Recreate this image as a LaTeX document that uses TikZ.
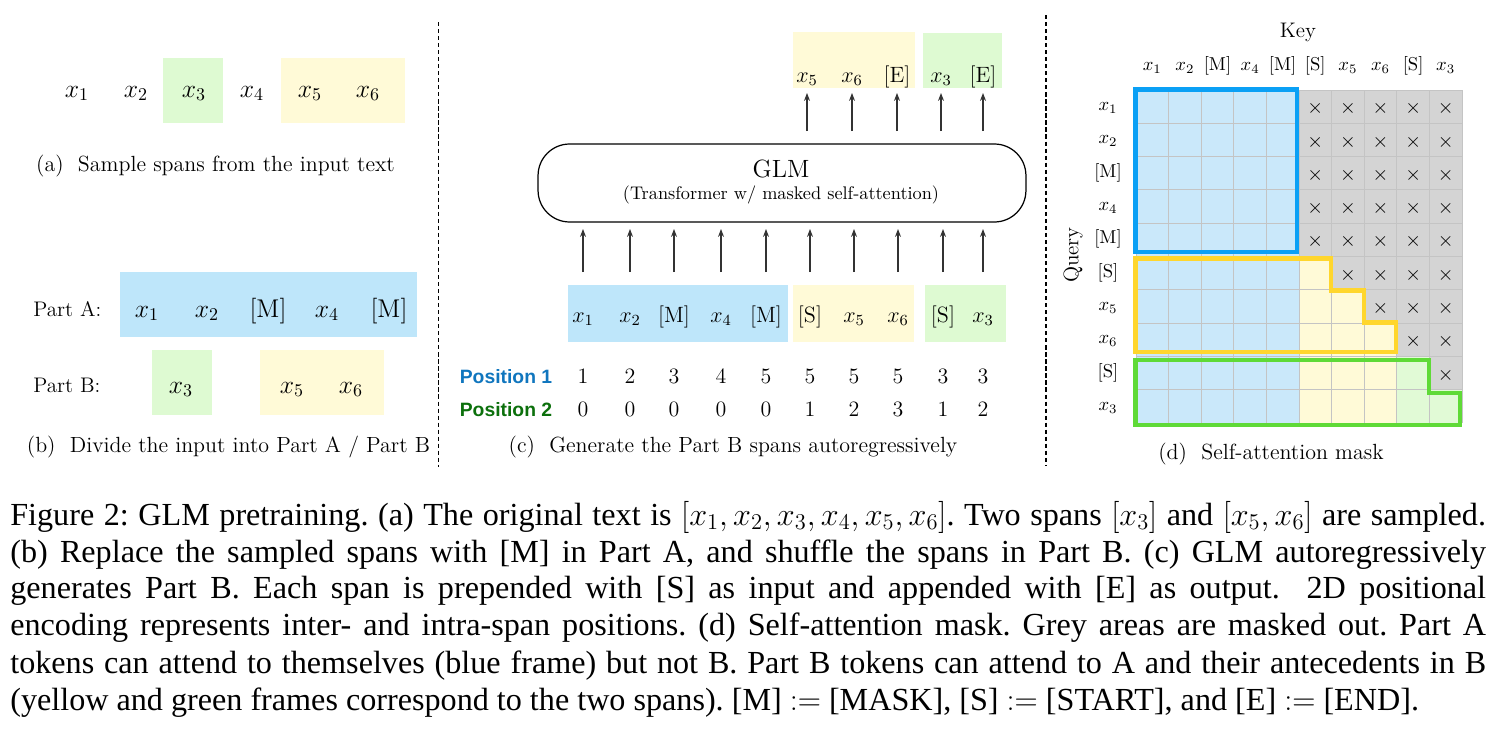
\documentclass[tikz,border=0pt]{standalone}
\usepackage{fix-cm}
\usepackage{fontspec}
\newfontfamily\capfont{Liberation Serif}
\newfontfamily\posfont{Liberation Sans}
\usetikzlibrary{arrows.meta}
\definecolor{boxblue}{RGB}{190,230,250}
\definecolor{boxyellow}{RGB}{255,250,215}
\definecolor{boxgreen}{RGB}{222,250,210}
\definecolor{cellblue}{RGB}{202,232,250}
\definecolor{cellyellow}{RGB}{255,250,215}
\definecolor{cellgreen}{RGB}{225,250,214}
\definecolor{cellgrey}{RGB}{212,212,212}
\definecolor{gridcol}{RGB}{196,196,196}
\definecolor{frameblue}{RGB}{10,160,245}
\definecolor{frameyellow}{RGB}{255,214,45}
\definecolor{framegreen}{RGB}{95,218,55}
\definecolor{posone}{RGB}{16,118,190}
\definecolor{postwo}{RGB}{12,112,12}
\newcommand{\myfs}[1]{\fontsize{#1}{#1}\selectfont}
\begin{document}
\frenchspacing
\begin{tikzpicture}[x=0.02cm,y=-0.02cm,
  tokA/.style={font=\myfs{14.6}, inner sep=0pt, anchor=base},
  tokC/.style={font=\myfs{12.6}, inner sep=0pt, anchor=base},
  numC/.style={font=\myfs{12.5}, inner sep=0pt, anchor=base},
  tokD/.style={font=\myfs{10.6}, inner sep=0pt, anchor=base},
  lab/.style={font=\myfs{12}, inner sep=0pt, anchor=base},
  subcap/.style={font=\myfs{12.5}, inner sep=0pt, anchor=base},
  poslab/.style={font=\posfont\bfseries\myfs{11}, inner sep=0pt, anchor=base},
  capline/.style={font=\capfont\myfs{18.3}, inner sep=0pt, anchor=base west},
  sepline/.style={line width=1.1pt, dash pattern=on 2.4pt off 1.6pt},
  arr/.style={line width=0.6pt, black!80, -{Stealth[length=4.5pt,width=3.4pt]}},
  frm/.style={line width=2.8pt, line join=miter},
  gridl/.style={gridcol, line width=0.5pt},
  xmark/.style={font=\myfs{11.5}, inner sep=0pt, anchor=center},
]
\useasboundingbox (0,0) rectangle (1492,747);

% separators
\coordinate (s1t) at (438.5,22); \coordinate (s1b) at (438.5,467);
\coordinate (s2t) at (1046,15); \coordinate (s2b) at (1046,465);
\draw[sepline] (s1t) -- (s1b);
\draw[sepline] (s2t) -- (s2b);

% ---------- panel (a)
\fill[boxgreen] (163,58) rectangle (223,123);
\fill[boxyellow] (281,58) rectangle (405,123);
\foreach \x/\t [count=\i] in {77/1,136/2,194/3,252/4,310/5,368/6}
  \node[tokA] (a\i) at (\x,97) {$x_{\t}$};
\node[subcap] (capa) at (215.5,171) {(a)\ \ Sample spans from the input text};

% ---------- panel (b)
\node[lab, anchor=base west] (partA) at (33,316) {Part A:};
\fill[boxblue] (120,272) rectangle (417,337);
\foreach \x/\t [count=\i] in {147/{$x_1$},207/{$x_2$},268/{[M]},327/{$x_4$},389/{[M]}}
  \node[tokA] (b\i) at (\x,317) {\t};
\node[lab, anchor=base west] (partB) at (33,392) {Part B:};
\fill[boxgreen] (152,350) rectangle (212,415);
\fill[boxyellow] (260,350) rectangle (384,415);
\node[tokA] (bb1) at (181,393) {$x_3$};
\node[tokA] (bb2) at (292,393) {$x_5$};
\node[tokA] (bb3) at (351,393) {$x_6$};
\node[subcap] (capb) at (228.5,452) {(b)\ \ Divide the input into Part A / Part B};

% ---------- panel (c)
\fill[boxyellow] (793,32) rectangle (915,88);
\fill[boxgreen] (923,33) rectangle (1002,88);
\foreach \x/\t [count=\i] in {807/{$x_5$},852/{$x_6$},897/{[E]},941/{$x_3$},983/{[E]}}
  \node[tokC] (co\i) at (\x,82) {\t};
\node[draw, line width=0.7pt, rounded corners=18pt, minimum width=9.76cm,
      minimum height=1.56cm, inner sep=0pt] (glm) at (782,183) {};
\node[font=\myfs{14.2}, inner sep=0pt, anchor=base] (glmt) at (781,177) {GLM};
\node[font=\myfs{10.4}, inner sep=0pt, anchor=base] (glms) at (781,199) {(Transformer w/ masked self-attention)};
\fill[boxblue] (568,285) rectangle (788,342);
\fill[boxyellow] (793,285) rectangle (914,342);
\fill[boxgreen] (925,285) rectangle (1006,342);
\foreach \x/\t/\p/\q [count=\i] in {583/{$x_1$}/1/0,630/{$x_2$}/2/0,674/{[M]}/3/0,721/{$x_4$}/4/0,766/{[M]}/5/0,
    810/{[S]}/5/1,854/{$x_5$}/5/2,898/{$x_6$}/5/3,943/{[S]}/3/1,983/{$x_3$}/3/2}{
  \node[tokC] (ci\i) at (\x,322) {\t};
  \node[numC] (pa\i) at (\x,383) {\p};
  \node[numC] (pb\i) at (\x,416) {\q};
}
\coordinate (yinb) at (0,272); \coordinate (yint) at (0,229);
\coordinate (youb) at (0,131); \coordinate (yout) at (0,93);
\foreach \i in {1,...,10} \draw[arr] (ci\i |- yinb) -- (ci\i |- yint);
\foreach \i in {1,...,5} \draw[arr] (co\i |- youb) -- (co\i |- yout);
\node[poslab, text=posone] (pos1) at (506,383) {Position 1};
\node[poslab, text=postwo] (pos2) at (506,416) {Position 2};
\node[subcap] (capc) at (733,452) {(c)\ \ Generate the Part B spans autoregressively};

% ---------- panel (d)
\fill[cellblue] (1136,90) rectangle (1299,423);
\fill[cellgrey] (1299,90) rectangle (1462,423);
\fill[cellyellow] (1299,256.5) -- (1331.6,256.5) -- (1331.6,289.8) -- (1364.2,289.8) -- (1364.2,323.1)
   -- (1396.8,323.1) -- (1396.8,423) -- (1299,423) -- cycle;
\fill[cellgreen] (1396.8,356.4) -- (1429.4,356.4) -- (1429.4,389.7) -- (1462,389.7) -- (1462,423)
   -- (1396.8,423) -- cycle;
\foreach \k in {0,...,10}{
  \draw[gridl] ({1136+32.6*\k},90) -- ({1136+32.6*\k},423);
  \draw[gridl] (1136,{90+33.3*\k}) -- (1462,{90+33.3*\k});
}
\foreach \r in {0,...,9}{
  \foreach \c in {5,...,9}{
    \pgfmathtruncatemacro{\m}{((\r<5) || (\c>\r)) ? 1 : 0}
    \ifnum\m=1
      \node[xmark] (m\r-\c) at ({1136+32.6*(\c+0.5)},{90+33.3*(\r+0.5)+2}) {$\times$};
    \fi
  }
}
\draw[frm, frameblue] (1135.5,89.5) -- (1297,89.5) -- (1297,252) -- (1135.5,252) -- cycle;
\draw[frm, frameyellow] (1135.5,258.5) -- (1331,258.5) -- (1331,290.5) -- (1364,290.5) -- (1364,322.5)
   -- (1396,322.5) -- (1396,352) -- (1135.5,352) -- cycle;
\draw[frm, framegreen] (1135.5,360) -- (1429,360) -- (1429,393) -- (1460,393) -- (1460,425)
   -- (1135.5,425) -- cycle;
\foreach \t [count=\i from 0] in {{$x_1$},{$x_2$},{[M]},{$x_4$},{[M]},{[S]},{$x_5$},{$x_6$},{[S]},{$x_3$}}{
  \node[tokD] (k\i) at ({1136+32.6*(\i+0.5)},71) {\t};
  \node[tokD] (q\i) at (1108,{90+33.3*(\i+0.5)+4}) {\t};
}
\node[lab] (key) at (1298,37) {Key};
\node[font=\myfs{12}, inner sep=0pt, rotate=90] (query) at (1073,255) {Query};
\node[subcap] (capd) at (1271,459) {(d)\ \ Self-attention mask};

% ---------- caption
\node[capline] (cap1) at (10,525) {\makebox[29.52cm][s]{Figure 2: GLM pretraining. (a) The original text is $[x_1, x_2, x_3, x_4, x_5, x_6]$. Two spans $[x_3]$ and $[x_5, x_6]$ are sampled.}};
\node[capline] (cap2) at (10,562) {\makebox[29.52cm][s]{(b) Replace the sampled spans with [M] in Part A, and shuffle the spans in Part B. (c) GLM autoregressively}};
\node[capline] (cap3) at (10,598) {\makebox[29.52cm][s]{generates Part B. Each span is prepended with [S] as input and appended with [E] as output. \ 2D positional}};
\node[capline] (cap4) at (10,635) {\makebox[29.52cm][s]{encoding represents inter- and intra-span positions. (d) Self-attention mask. Grey areas are masked out. Part A}};
\node[capline] (cap5) at (10,673) {\makebox[29.52cm][s]{tokens can attend to themselves (blue frame) but not B. Part B tokens can attend to A and their antecedents in B}};
\node[capline] (cap6) at (10,710) {(yellow and green frames correspond to the two spans). [M] $:=$ [MASK], [S] $:=$ [START], and [E] $:=$ [END].};
\end{tikzpicture}
\end{document}
